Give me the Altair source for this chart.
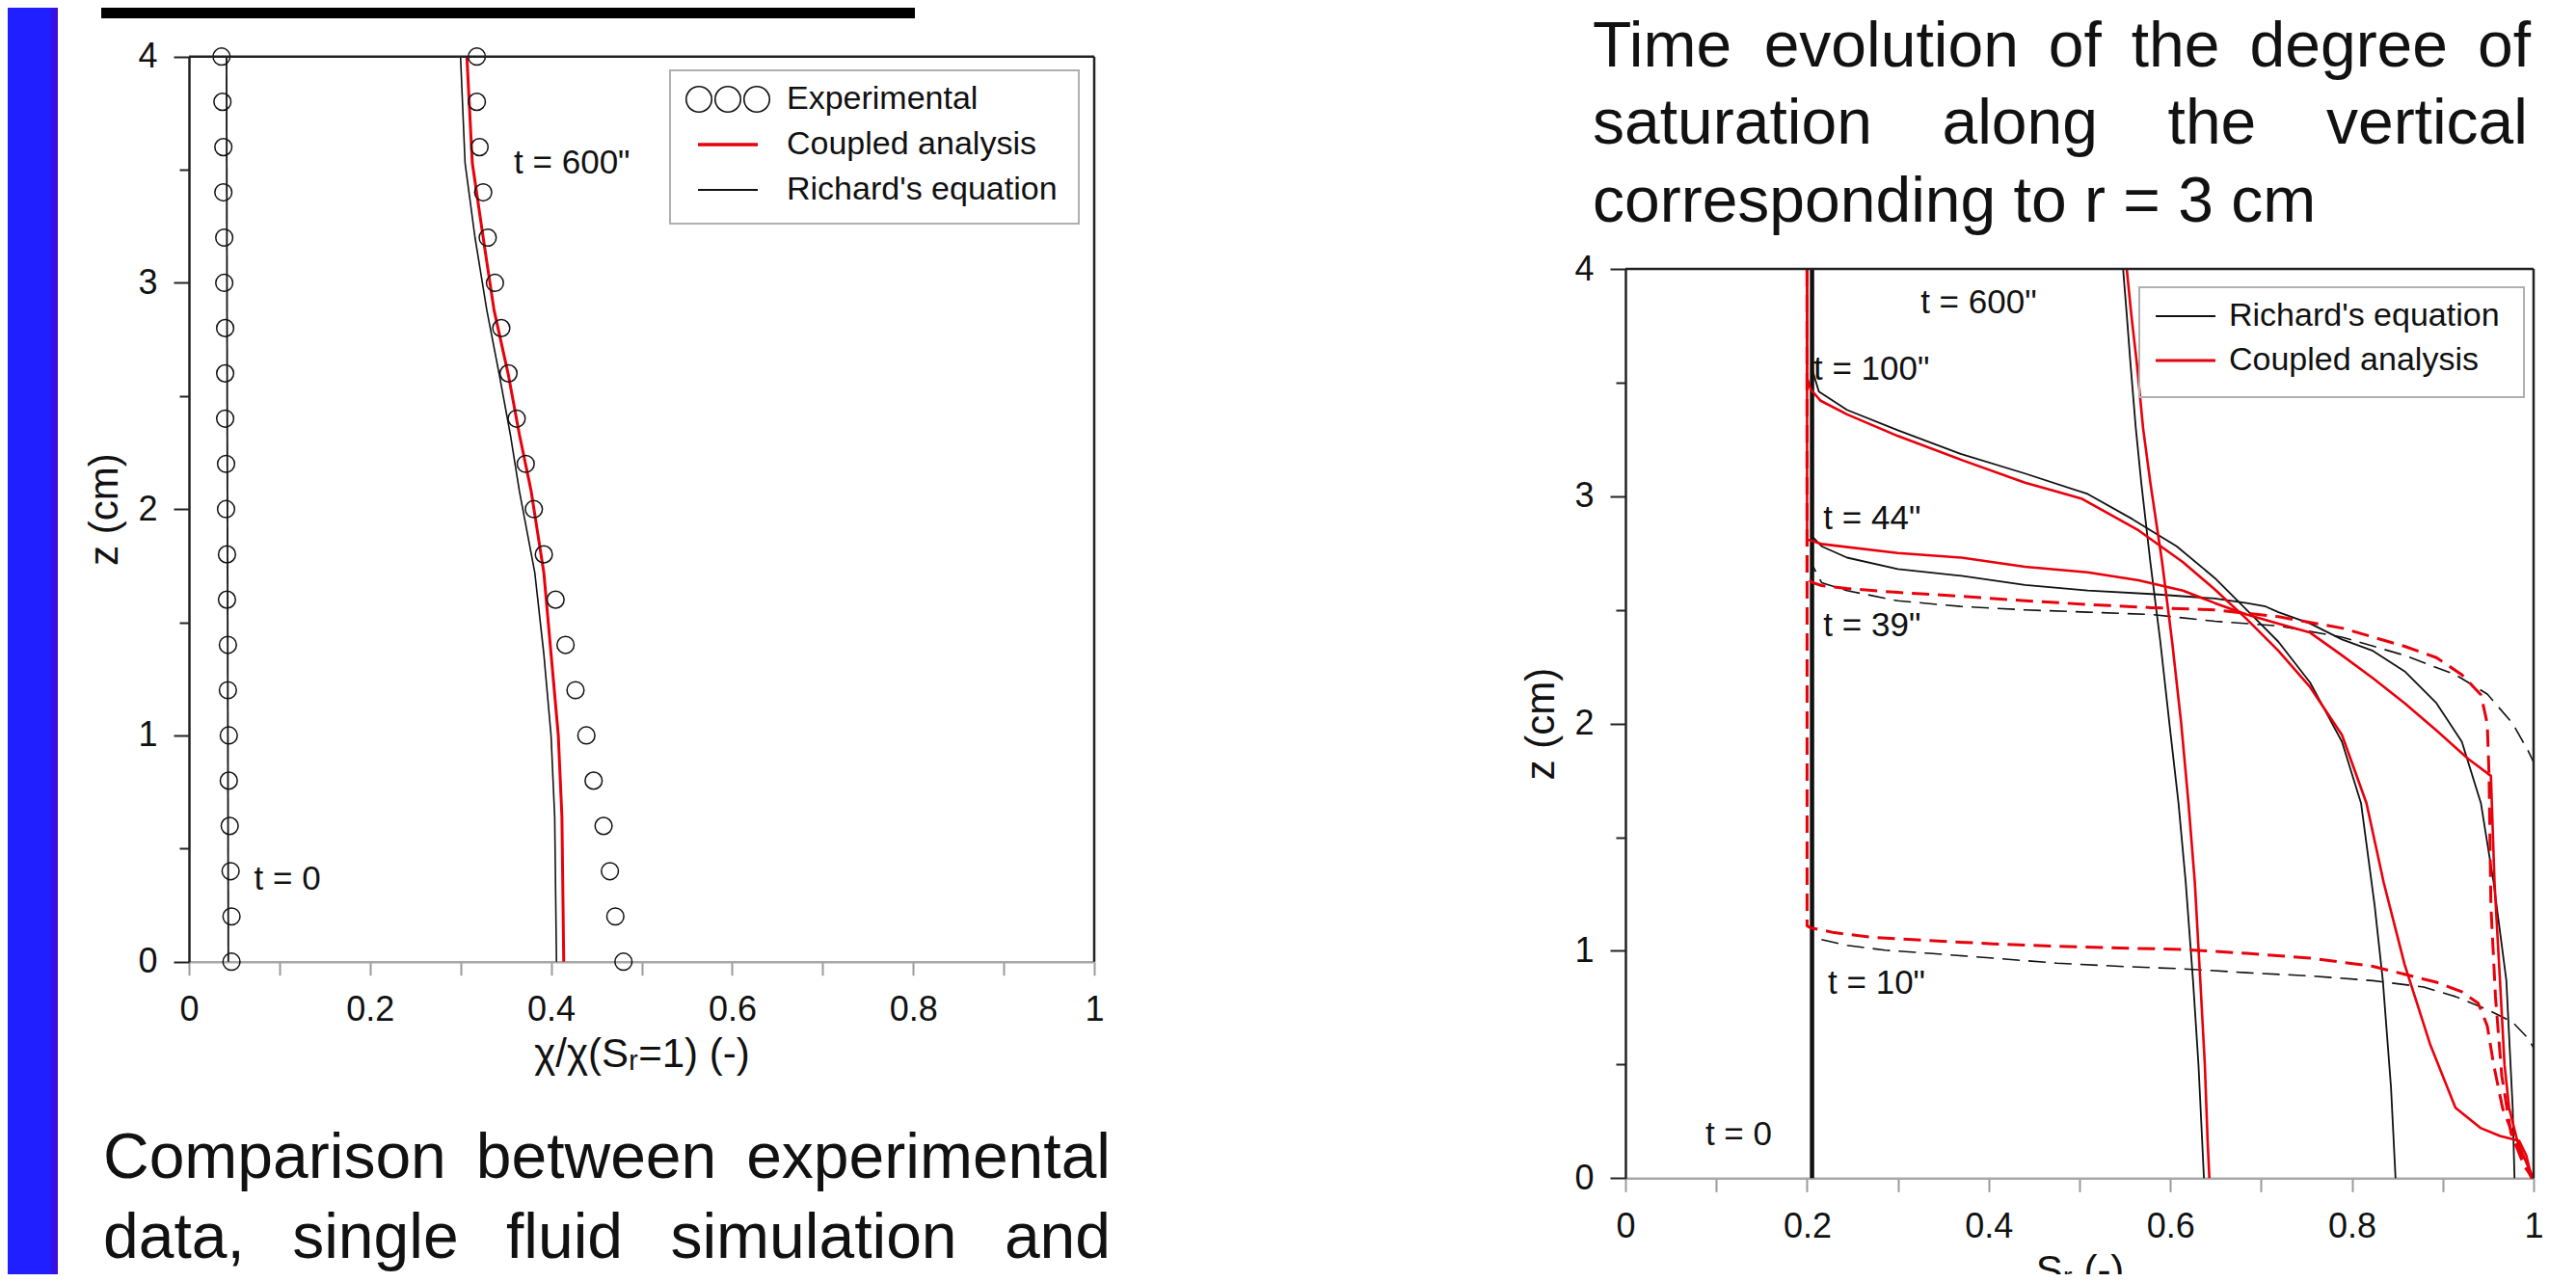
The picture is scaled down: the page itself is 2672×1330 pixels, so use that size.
import altair as alt
import pandas as pd

# ---------------- left panel data ----------------
Z_EXP = [0.0, 0.2, 0.4, 0.6, 0.8, 1.0, 1.2, 1.4, 1.6, 1.8, 2.0, 2.2, 2.4, 2.6, 2.8, 3.0, 3.2, 3.4, 3.6, 3.8, 4.0]
EXP_T0 = [0.047, 0.047, 0.046, 0.045, 0.044, 0.044, 0.043, 0.043, 0.042, 0.042, 0.041,
          0.041, 0.040, 0.040, 0.040, 0.039, 0.039, 0.038, 0.038, 0.037, 0.036]
EXP_T600 = [0.480, 0.471, 0.465, 0.458, 0.447, 0.439, 0.427, 0.416, 0.405, 0.392, 0.381,
            0.372, 0.362, 0.353, 0.345, 0.338, 0.330, 0.325, 0.321, 0.318, 0.318]

L_T0_Z = [0.0, 4.0]
L_T0_S = [0.0435, 0.0415]
L_600_Z = [4.0, 3.53, 3.2, 2.88, 2.59, 2.33, 2.08, 1.72, 1.36, 1.0, 0.64, 0.0]
L_600_CPL_S = [0.307, 0.313, 0.325, 0.337, 0.353, 0.365, 0.378, 0.392, 0.400, 0.408, 0.412, 0.414]
L_600_RIC_S = [0.300, 0.305, 0.316, 0.329, 0.343, 0.355, 0.365, 0.382, 0.392, 0.400, 0.404, 0.406]

# ---------------- right panel data ----------------
R_T0_Z = [0.0, 4.0]
R_T0_S = [0.2055, 0.2055]

R_T600_Z = [4.0, 3.8, 3.59, 3.3, 3.06, 2.71, 2.36, 2.0, 1.65, 1.3, 0.87, 0.5, 0.17, 0.0]
R_T600_RIC_S = [0.548, 0.552, 0.556, 0.562, 0.568, 0.578, 0.589, 0.599, 0.609, 0.617, 0.625, 0.631, 0.635, 0.637]
R_T600_CPL_S = [0.552, 0.557, 0.563, 0.570, 0.578, 0.591, 0.602, 0.612, 0.620, 0.627, 0.633, 0.638, 0.641, 0.643]

R_T100_RIC_Z = [4.0, 3.56, 3.46, 3.38, 3.29, 3.185, 3.10, 3.01, 2.90, 2.78, 2.64, 2.50, 2.36, 2.18, 1.92, 1.65, 1.2, 0.87, 0.4, 0.0]
R_T100_RIC_S = [0.2055, 0.2055, 0.213, 0.244, 0.300, 0.370, 0.440, 0.509, 0.558, 0.607, 0.649, 0.684, 0.719, 0.754, 0.789, 0.810, 0.825, 0.834, 0.843, 0.848]
R_T100_CPL_Z = [4.0, 3.52, 3.47, 3.42, 3.36, 3.265, 3.16, 3.06, 2.99, 2.85, 2.71, 2.59, 2.46, 2.32, 2.16, 1.95, 1.65, 1.3, 0.94, 0.59, 0.31, 0.22, 0.186, 0.165, 0.10, 0.0]
R_T100_CPL_S = [0.200, 0.200, 0.204, 0.215, 0.244, 0.300, 0.370, 0.440, 0.502, 0.565, 0.614, 0.649, 0.684, 0.719, 0.754, 0.789, 0.816, 0.835, 0.858, 0.886, 0.914, 0.942, 0.963, 0.984, 0.992, 0.998]

R_T44_RIC_Z = [4.0, 2.824, 2.78, 2.73, 2.68, 2.65, 2.61, 2.585, 2.57, 2.55, 2.53, 2.515, 2.49, 2.44, 2.37, 2.32, 2.23, 2.09, 1.92, 1.65, 1.3, 0.87, 0.31, 0.0]
R_T44_RIC_S = [0.2055, 0.2055, 0.216, 0.244, 0.300, 0.370, 0.440, 0.509, 0.579, 0.649, 0.684, 0.705, 0.719, 0.754, 0.789, 0.823, 0.858, 0.893, 0.921, 0.942, 0.956, 0.970, 0.977, 0.979]
R_T44_CPL_Z = [4.0, 2.81, 2.79, 2.75, 2.73, 2.69, 2.665, 2.63, 2.585, 2.53, 2.48, 2.44, 2.40, 2.30, 2.20, 2.09, 1.97, 1.845, 1.77, 1.3, 0.87, 0.5, 0.31, 0.165, 0.05, 0.0]
R_T44_CPL_S = [0.200, 0.200, 0.216, 0.300, 0.370, 0.440, 0.509, 0.565, 0.614, 0.649, 0.684, 0.719, 0.754, 0.789, 0.823, 0.858, 0.893, 0.928, 0.953, 0.957, 0.963, 0.968, 0.973, 0.982, 0.994, 1.0]

R_T39_RIC_Z = [4.0, 2.70, 2.62, 2.585, 2.54, 2.515, 2.50, 2.49, 2.48, 2.45, 2.43, 2.38, 2.30, 2.215, 2.13, 2.0, 1.88, 1.83, 0.0]
R_T39_RIC_S = [0.2055, 0.2055, 0.216, 0.244, 0.300, 0.370, 0.440, 0.509, 0.579, 0.649, 0.719, 0.789, 0.858, 0.914, 0.949, 0.977, 0.994, 1.0, 1.0]
R_T39_CPL_Z = [4.0, 2.64, 2.62, 2.607, 2.594, 2.577, 2.56, 2.54, 2.524, 2.51, 2.50, 2.47, 2.42, 2.34, 2.29, 2.215, 2.127, 2.0, 1.77, 1.2, 0.8, 0.45, 0.2, 0.05, 0.0]
R_T39_CPL_S = [0.200, 0.200, 0.206, 0.216, 0.244, 0.300, 0.370, 0.440, 0.509, 0.579, 0.649, 0.719, 0.789, 0.858, 0.893, 0.921, 0.942, 0.949, 0.951, 0.953, 0.958, 0.965, 0.975, 0.990, 1.0]

R_T10_RIC_Z = [4.0, 1.07, 1.052, 1.024, 1.003, 0.989, 0.968, 0.946, 0.932, 0.921, 0.904, 0.89, 0.869, 0.841, 0.799, 0.742, 0.686, 0.615, 0.573, 0.0]
R_T10_RIC_S = [0.2055, 0.2055, 0.213, 0.244, 0.286, 0.335, 0.405, 0.475, 0.544, 0.614, 0.684, 0.754, 0.823, 0.879, 0.914, 0.949, 0.977, 0.994, 1.0, 1.0]
R_T10_CPL_Z = [4.0, 1.11, 1.101, 1.08, 1.06, 1.045, 1.031, 1.02, 1.013, 1.006, 0.989, 0.968, 0.932, 0.897, 0.862, 0.82, 0.77, 0.67, 0.50, 0.306, 0.165, 0.052, 0.0]
R_T10_CPL_S = [0.200, 0.200, 0.2045, 0.23, 0.272, 0.335, 0.405, 0.475, 0.544, 0.614, 0.684, 0.754, 0.823, 0.858, 0.893, 0.921, 0.939, 0.949, 0.956, 0.966, 0.980, 0.991, 0.998]

X_TICKS = [0.0, 0.1, 0.2, 0.3, 0.4, 0.5, 0.6, 0.7, 0.8, 0.9, 1.0]
Y_TICKS = [0.0, 0.5, 1.0, 1.5, 2.0, 2.5, 3.0, 3.5, 4.0]

LEFT_LABELS = [("t = 600\"", 0.359, 3.53), ("t = 0", 0.072, 0.365)]
RIGHT_LABELS = [("t = 600\"", 0.325, 3.85), ("t = 100\"", 0.207, 3.56), ("t = 44\"", 0.218, 2.90),
                ("t = 39\"", 0.218, 2.43), ("t = 10\"", 0.223, 0.857), ("t = 0", 0.088, 0.19)]

CAPTION_RIGHT = ["Time evolution of the degree of", "saturation along the vertical", "corresponding to r = 3 cm"]
CAPTION_LEFT = ["Comparison between experimental", "data, single fluid simulation and"]

# ---------------- layout (page px -> chart px) ----------------
W, H = 2656, 1314
P = 8
FONT = "Liberation Sans"
RED = "#e8000b"
BLK = "#111111"
ONE = pd.DataFrame({"k": [0]})

# Arial / Liberation Sans advance widths (1/1000 em) used to justify caption lines
AW = {"a": 556, "b": 556, "c": 500, "d": 556, "e": 556, "f": 278, "g": 556, "h": 556, "i": 222,
      "l": 222, "m": 833, "n": 556, "o": 556, "p": 556, "r": 333, "s": 500, "t": 278, "u": 556,
      "v": 500, "w": 722, "x": 500, "T": 611, "C": 722, ",": 278}


def xaxis(title, offset):
    return alt.Axis(orient="bottom", offset=offset, values=X_TICKS, title=title,
                    labelExpr="round(datum.value*10) % 2 == 0 ? format(datum.value, '~g') : ''",
                    tickSize=14, tickColor="#9a9a9a", tickWidth=2, domainColor="#a8a8a8", domainWidth=2.5,
                    labelPadding=19, labelFontSize=36, titleFontSize=42, titlePadding=8,
                    labelFlush=False, labelOverlap=False, grid=False)


def yaxis(offset):
    return alt.Axis(orient="left", offset=offset, values=Y_TICKS, title="z (cm)",
                    labelExpr="datum.value % 1 == 0 ? format(datum.value, 'd') : ''",
                    tickSize={"condition": {"test": "datum.value % 1 == 0", "value": 16}, "value": 10},
                    tickColor="#222222", tickWidth=2, domainColor="#222222", domainWidth=2.5,
                    labelPadding=17, labelFontSize=36, titleFontSize=42, titlePadding=12,
                    labelFlush=False, labelOverlap=False, grid=False)


def panel(xr, yr, xtitle):
    sx = alt.Scale(domain=[0, 1], range=xr, nice=False, zero=False)
    sy = alt.Scale(domain=[0, 4], range=yr, nice=False, zero=False)
    ax = xaxis(xtitle, yr[0] - H)
    ay = yaxis(-xr[0])
    X = alt.X("s:Q", scale=sx, axis=ax)
    Y = alt.Y("z:Q", scale=sy, axis=ay)

    def xd(v):
        return alt.XDatum(v, type="quantitative", scale=sx, axis=ax)

    def yd(v):
        return alt.YDatum(v, type="quantitative", scale=sy, axis=ay)
    return X, Y, xd, yd


def line(S, Z, X, Y, color, width, dash=None):
    df = pd.DataFrame({"s": S, "z": Z, "i": list(range(len(S)))})
    kw = dict(color=color, strokeWidth=width, strokeCap="butt", strokeJoin="round")
    if dash:
        kw["strokeDash"] = dash
    return alt.Chart(df).mark_line(**kw).encode(x=X, y=Y, order="i:Q")


def frame(xd, yd):
    top = alt.Chart(ONE).mark_rule(color="#222222", strokeWidth=2.5).encode(
        x=xd(0.0), x2=alt.datum(1.0), y=yd(4.0))
    right = alt.Chart(ONE).mark_rule(color="#222222", strokeWidth=2.5).encode(
        x=xd(1.0), y=yd(0.0), y2=alt.datum(4.0))
    return [top, right]


def labels(items, xd, yd):
    out = []
    for t, s, z in items:
        out.append(alt.Chart(ONE).mark_text(text=t, align="left", baseline="middle", fontSize=35,
                                            font=FONT, color=BLK).encode(x=xd(s), y=yd(z)))
    return out


def ptext(s, x, y, size, align="left", baseline="alphabetic", color=BLK):
    return alt.Chart(ONE).mark_text(text=s, align=align, baseline=baseline, fontSize=size,
                                    font=FONT, color=color).encode(x=alt.value(x - P), y=alt.value(y - P))


def justified(text, x0, x1, y, size):
    words = text.split(" ")
    widths = [sum(AW.get(c, 556) for c in w) * size / 1000.0 for w in words]
    gap = (x1 - x0 - sum(widths)) / (len(words) - 1)
    out, x = [], x0
    for i, (w, wd) in enumerate(zip(words, widths)):
        if i == len(words) - 1:
            out.append(ptext(w, x1, y, size, align="right"))
        else:
            out.append(ptext(w, x, y, size))
        x += wd + gap
    return out


def prect(x1, y1, x2, y2, fill=None, stroke=None, sw=0):
    kw = {}
    if fill:
        kw["fill"] = fill
    else:
        kw["fillOpacity"] = 0
    if stroke:
        kw["stroke"] = stroke
        kw["strokeWidth"] = sw
    return alt.Chart(ONE).mark_rect(**kw).encode(x=alt.value(max(x1 - P, 0)), x2=alt.value(x2 - P),
                                                 y=alt.value(max(y1 - P, 0)), y2=alt.value(y2 - P))


def pline(x1, x2, y, color, width):
    return alt.Chart(ONE).mark_rule(color=color, strokeWidth=width).encode(
        x=alt.value(x1 - P), x2=alt.value(x2 - P), y=alt.value(y - P))


def pcircle(x, y, size):
    return alt.Chart(ONE).mark_point(shape="circle", filled=False, size=size, color=BLK,
                                     strokeWidth=1.6, opacity=1).encode(x=alt.value(x - P), y=alt.value(y - P))


# ---------------- left panel ----------------
LX, LY, lxd, lyd = panel([196 - P, 1135 - P], [997.7 - P, 58.7 - P], "χ/χ(Sᵣ=1) (-)")
exp_df = pd.DataFrame({"s": EXP_T0 + EXP_T600, "z": Z_EXP + Z_EXP})
left_layers = [
    line(L_T0_S, L_T0_Z, LX, LY, BLK, 1.8),
    line(L_600_RIC_S, L_600_Z, LX, LY, BLK, 1.6),
    line(L_600_CPL_S, L_600_Z, LX, LY, RED, 3.0),
    alt.Chart(exp_df).mark_point(shape="circle", filled=False, size=313, color=BLK, strokeWidth=1.5,
                                 opacity=1).encode(x=LX, y=LY),
] + frame(lxd, lyd) + labels(LEFT_LABELS, lxd, lyd)
left = alt.layer(*left_layers)

# ---------------- right panel ----------------
RX, RY, rxd, ryd = panel([1686 - P, 2628 - P], [1222.3 - P, 279 - P], "Sᵣ (-)")
DASH = [18, 9]
right_layers = [
    line(R_T10_RIC_S, R_T10_RIC_Z, RX, RY, BLK, 1.6, DASH),
    line(R_T39_RIC_S, R_T39_RIC_Z, RX, RY, BLK, 1.6, DASH),
    line(R_T44_RIC_S, R_T44_RIC_Z, RX, RY, BLK, 1.8),
    line(R_T100_RIC_S, R_T100_RIC_Z, RX, RY, BLK, 1.8),
    line(R_T600_RIC_S, R_T600_Z, RX, RY, BLK, 1.8),
    line(R_T0_S, R_T0_Z, RX, RY, BLK, 4.5),
    line(R_T10_CPL_S, R_T10_CPL_Z, RX, RY, RED, 3.0, DASH),
    line(R_T39_CPL_S, R_T39_CPL_Z, RX, RY, RED, 3.0, DASH),
    line(R_T44_CPL_S, R_T44_CPL_Z, RX, RY, RED, 2.6),
    line(R_T100_CPL_S, R_T100_CPL_Z, RX, RY, RED, 2.6),
    line(R_T600_CPL_S, R_T600_Z, RX, RY, RED, 2.6),
] + frame(rxd, ryd) + labels(RIGHT_LABELS, rxd, ryd)
right = alt.layer(*right_layers)

# ---------------- decorations: strip, bar, legends, captions ----------------
deco_back = [
    prect(0, 0, 60, 1330, fill="#1f1fff"),
    prect(53, 0, 60, 1330, fill="#3a10e0"),
    prect(105, 0, 949, 19, fill="#000000"),
]

legend = [
    prect(695, 73, 1119, 232, stroke="#b0b0b0", sw=2),
    pcircle(725, 103, 700), pcircle(755, 103, 700), pcircle(785, 103, 700),
    pline(724, 786, 150, RED, 3.5),
    pline(724, 786, 197, BLK, 2),
    ptext("Experimental", 816, 103, 34, baseline="middle"),
    ptext("Coupled analysis", 816, 150, 34, baseline="middle"),
    ptext("Richard's equation", 816, 197, 34, baseline="middle"),
    prect(2219, 298, 2618, 412, stroke="#b0b0b0", sw=2),
    pline(2236, 2298, 328, BLK, 2),
    pline(2236, 2298, 374, RED, 3),
    ptext("Richard's equation", 2312, 328, 34, baseline="middle"),
    ptext("Coupled analysis", 2312, 374, 34, baseline="middle"),
]

CAP = 66
captions = (
    justified(CAPTION_RIGHT[0], 1652, 2625, 69, CAP)
    + justified(CAPTION_RIGHT[1], 1652, 2622, 149, CAP)
    + [ptext(CAPTION_RIGHT[2], 1652, 230, CAP)]
    + justified(CAPTION_LEFT[0], 107, 1152, 1222, CAP)
    + justified(CAPTION_LEFT[1], 107, 1152, 1305, CAP)
)

chart = alt.layer(*deco_back, left, right, *legend, *captions).resolve_scale(
    x="independent", y="independent"
).properties(
    width=W, height=H, padding=0,
    autosize=alt.AutoSizeParams(type="none"),
    background="white",
).configure_view(stroke=None).configure_axis(
    labelFont=FONT, titleFont=FONT, labelColor=BLK, titleColor=BLK, titleFontWeight="normal",
)

chart.save("out.html", embed_options={"renderer": "svg", "actions": False})
